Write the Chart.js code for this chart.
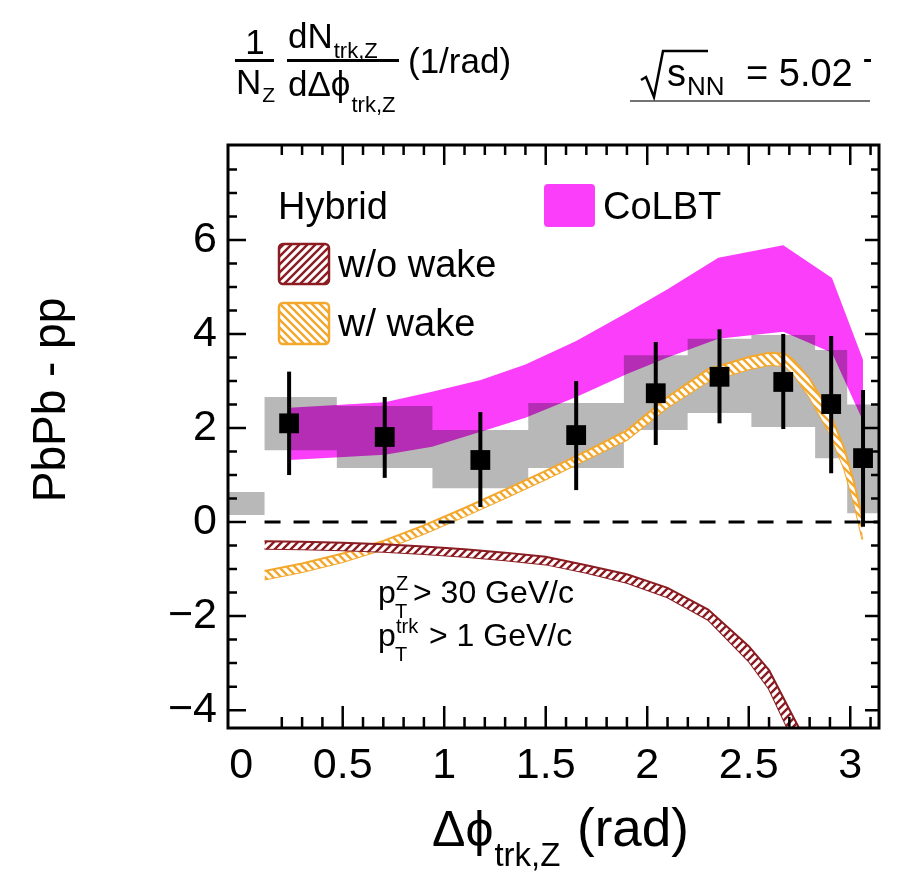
<!DOCTYPE html>
<html>
<head>
<meta charset="utf-8">
<script src="https://cdn.jsdelivr.net/npm/chart.js@4.4.1/dist/chart.umd.min.js"></script>
<style>
  html, body { margin: 0; padding: 0; background: #fff; }
  canvas { display: block; }
</style>
</head>
<body>
<canvas id="plot" width="899" height="872"></canvas>
<script>
// tick labels
var xTicks = [0, 0.5, 1, 1.5, 2, 2.5, 3];
var yTicks = [-4, -2, 0, 2, 4, 6];

// data points (PbPb - pp), stat error ends
var ptX = [0.236, 0.707, 1.178, 1.65, 2.042, 2.356, 2.67, 2.906, 3.063];
var ptY = [2.1, 1.81, 1.32, 1.85, 2.74, 3.09, 2.98, 2.51, 1.36];
var errHi = [3.2, 2.66, 2.34, 3.0, 3.83, 4.1, 4.0, 3.96, 2.81];
var errLo = [1.0, 0.94, 0.32, 0.68, 1.64, 2.1, 1.98, 1.04, -0.1];

// systematic boxes (bin edges, low/high)
var sysEdges = [-0.065, 0.115, 0.471, 0.942, 1.414, 1.885, 2.199, 2.513, 2.827, 2.985, 3.1416];
var sysHi = [0.64, 2.66, 2.47, 1.96, 2.53, 3.55, 3.9, 3.98, 3.66, 2.5];
var sysLo = [0.15, 1.53, 1.15, 0.72, 1.15, 1.96, 2.32, 2.02, 1.36, 0.19];

// CoLBT band
var colbtX = [0.236, 0.707, 0.94, 1.18, 1.4, 1.65, 1.9, 2.1, 2.35, 2.67, 2.91, 3.063];
var colbtHi = [2.43, 2.55, 2.77, 3.02, 3.35, 3.85, 4.45, 4.95, 5.62, 5.89, 5.19, 3.45];
var colbtLo = [1.32, 1.43, 1.6, 1.92, 2.22, 2.66, 3.15, 3.5, 3.9, 4.05, 3.6, 2.15];

// Hybrid w/ wake band
var wakeX = [0.115, 0.3, 0.5, 0.7, 0.9, 1.1, 1.3, 1.5, 1.7, 1.9, 2.1, 2.3, 2.5, 2.6, 2.68, 2.72, 2.8, 2.9, 2.97, 3.02, 3.06];
var wakeHi = [-1.04, -0.88, -0.67, -0.4, -0.07, 0.3, 0.69, 1.09, 1.51, 1.95, 2.66, 3.25, 3.51, 3.6, 3.58, 3.45, 3.05, 2.32, 1.57, 0.82, 0.07];
var wakeLo = [-1.22, -1.06, -0.85, -0.58, -0.25, 0.12, 0.51, 0.91, 1.33, 1.75, 2.44, 2.99, 3.25, 3.34, 3.32, 3.15, 2.65, 1.88, 1.13, 0.38, -0.37];

// Hybrid w/o wake band
var noWakeX = [0.115, 0.3, 0.5, 0.7, 0.9, 1.1, 1.3, 1.5, 1.7, 1.9, 2.1, 2.3, 2.5, 2.6, 2.72, 2.78];
var noWakeHi = [-0.41, -0.42, -0.44, -0.47, -0.52, -0.58, -0.65, -0.74, -0.92, -1.11, -1.4, -1.86, -2.64, -3.15, -4.15, -4.65];
var noWakeLo = [-0.57, -0.58, -0.6, -0.63, -0.68, -0.74, -0.81, -0.9, -1.08, -1.29, -1.6, -2.08, -2.96, -3.55, -4.65, -5.15];

var zeroX = [0.115, 3.1416];
var zeroY = [0, 0];

var FONT = "'Liberation Sans', Arial, Helvetica, sans-serif";
var MAGENTA = "rgb(250,62,250)";
var ORANGE = "rgb(243,168,45)";
var DARKRED = "rgb(138,28,34)";

function pts(xs, ys) {
    return xs.map((x, i) => ({ x: x, y: ys[i] }));
}
function stepPts(edges, vals) {
    var out = vals.map((v, i) => ({ x: edges[i], y: v }));
    out.push({ x: edges[edges.length - 1], y: vals[vals.length - 1] });
    return out;
}
function hatch(color, dir) {
    var c = document.createElement("canvas");
    c.width = 8;
    c.height = 8;
    var g = c.getContext("2d");
    g.fillStyle = "#fff";
    g.fillRect(0, 0, 8, 8);
    g.strokeStyle = color;
    g.lineWidth = 2.4;
    g.beginPath();
    if (dir > 0) {
        g.moveTo(-4, 4); g.lineTo(4, -4);
        g.moveTo(0, 8); g.lineTo(8, 0);
        g.moveTo(4, 12); g.lineTo(12, 4);
    } else {
        g.moveTo(-4, 4); g.lineTo(4, 12);
        g.moveTo(0, 0); g.lineTo(8, 8);
        g.moveTo(4, -4); g.lineTo(12, 4);
    }
    g.stroke();
    return g.createPattern(c, "repeat");
}
var redHatch = hatch(DARKRED, 1);
var orangeHatch = hatch(ORANGE, -1);

function roundBox(ctx, x, y, w, h, r) {
    ctx.beginPath();
    ctx.moveTo(x + r, y);
    ctx.arcTo(x + w, y, x + w, y + h, r);
    ctx.arcTo(x + w, y + h, x, y + h, r);
    ctx.arcTo(x, y + h, x, y, r);
    ctx.arcTo(x, y, x + w, y, r);
    ctx.closePath();
}

// text with a subscript right after it
function textSub(ctx, main, sub, x, y, size, subSize, drop) {
    ctx.font = size + "px " + FONT;
    ctx.fillText(main, x, y);
    var w = ctx.measureText(main).width;
    ctx.font = subSize + "px " + FONT;
    ctx.fillText(sub, x + w + 1, y + drop);
    return x + w + 1 + ctx.measureText(sub).width;
}

var rootStyle = {
    id: "rootStyle",
    afterDatasetDraw: function (chart, args) {
        // systematic boxes are blended (multiply) over the CoLBT band
        if (args.index === 7) chart.ctx.globalCompositeOperation = "multiply";
        if (args.index === 6) chart.ctx.globalCompositeOperation = "source-over";
    },
    afterDatasetsDraw: function (chart) {
        var ctx = chart.ctx;
        var xs = chart.scales.x, ys = chart.scales.y;
        ctx.save();
        ctx.globalCompositeOperation = "source-over";
        ctx.strokeStyle = "#000";
        ctx.lineWidth = 4;
        ptX.forEach((x, i) => {
            var px = xs.getPixelForValue(x);
            ctx.beginPath();
            ctx.moveTo(px, ys.getPixelForValue(errHi[i]));
            ctx.lineTo(px, ys.getPixelForValue(errLo[i]));
            ctx.stroke();
        });
        ctx.restore();
    },
    afterDraw: function (chart) {
        var ctx = chart.ctx;
        var a = chart.chartArea;
        var xs = chart.scales.x, ys = chart.scales.y;
        ctx.save();
        // frame
        ctx.strokeStyle = "#000";
        ctx.lineWidth = 3;
        ctx.strokeRect(a.left, a.top, a.right - a.left, a.bottom - a.top);
        // x ticks (inside)
        ctx.lineWidth = 2.5;
        ctx.beginPath();
        for (var k = 2; k <= 31; k++) {
            var v = k / 10;
            var px = xs.getPixelForValue(v);
            var major = k % 5 === 0;
            ctx.moveTo(px, a.bottom);
            ctx.lineTo(px, a.bottom - (major ? 22 : 11));
            ctx.moveTo(px, a.top);
            ctx.lineTo(px, a.top + (major ? 20 : 10));
        }
        // y ticks (inside)
        for (var j = -8; j <= 16; j++) {
            var vy = j / 2;
            var py = ys.getPixelForValue(vy);
            if (py < a.top + 2 || py > a.bottom - 2) continue;
            var majorY = j % 4 === 0;
            ctx.moveTo(a.left, py);
            ctx.lineTo(a.left + (majorY ? 18 : 9), py);
            ctx.moveTo(a.right, py);
            ctx.lineTo(a.right - (majorY ? 14 : 8), py);
        }
        ctx.stroke();

        ctx.fillStyle = "#000";
        ctx.textBaseline = "alphabetic";
        ctx.textAlign = "left";

        // legend
        ctx.font = "38px " + FONT;
        ctx.fillText("Hybrid", 278, 219);
        ctx.fillText("w/o wake", 338, 277);
        ctx.fillText("w/ wake", 338, 336);
        ctx.fillText("CoLBT", 603, 219);
        ctx.lineWidth = 2.5;
        roundBox(ctx, 279, 244, 50, 40, 4);
        ctx.fillStyle = redHatch;
        ctx.fill();
        ctx.strokeStyle = DARKRED;
        ctx.stroke();
        roundBox(ctx, 279, 303, 50, 41, 4);
        ctx.fillStyle = orangeHatch;
        ctx.fill();
        ctx.strokeStyle = ORANGE;
        ctx.stroke();
        roundBox(ctx, 544, 184, 51, 43, 4);
        ctx.fillStyle = MAGENTA;
        ctx.fill();

        // kinematic cuts
        ctx.fillStyle = "#000";
        ctx.font = "32px " + FONT;
        ctx.fillText("p", 378, 603);
        ctx.fillText("p", 378, 646);
        ctx.font = "20px " + FONT;
        ctx.fillText("Z", 396, 590);
        ctx.fillText("T", 395, 618);
        ctx.fillText("trk", 396, 633);
        ctx.fillText("T", 395, 661);
        ctx.font = "32px " + FONT;
        ctx.fillText("> 30 GeV/c", 413, 603);
        ctx.fillText("> 1 GeV/c", 429, 646);

        // x title
        textSub(ctx, "\u0394\u03d5", "trk,Z", 432, 846, 50, 33, 20);
        ctx.font = "53px " + FONT;
        ctx.fillText("(rad)", 577, 846);

        // y title
        ctx.save();
        ctx.translate(65, 400);
        ctx.rotate(-Math.PI / 2);
        ctx.textAlign = "center";
        ctx.font = "46px " + FONT;
        ctx.fillText("PbPb - pp", 0, 0);
        ctx.restore();

        // top-left quantity label
        ctx.font = "35px " + FONT;
        ctx.textAlign = "center";
        ctx.fillText("1", 255, 54);
        ctx.textAlign = "left";
        textSub(ctx, "N", "Z", 236, 94, 35, 21, 8);
        textSub(ctx, "dN", "trk,Z", 288, 48, 35, 22, 10);
        textSub(ctx, "d\u0394\u03d5", "trk,Z", 288, 96, 35, 22, 16);
        ctx.font = "35px " + FONT;
        ctx.fillText("(1/rad)", 408, 73);
        ctx.fillRect(235, 59, 39, 3);
        ctx.fillRect(287, 59, 112, 3);

        // sqrt(s_NN) label, cut off at the right
        ctx.save();
        ctx.beginPath();
        ctx.rect(600, 20, 271, 90);
        ctx.clip();
        ctx.lineWidth = 2.5;
        ctx.strokeStyle = "#000";
        ctx.beginPath();
        ctx.moveTo(641, 80);
        ctx.lineTo(646, 77);
        ctx.lineTo(654, 97);
        ctx.lineTo(663, 51);
        ctx.lineTo(708, 51);
        ctx.stroke();
        textSub(ctx, "s", "NN", 667, 86, 38, 26, 9);
        ctx.font = "38px " + FONT;
        ctx.fillText("= 5.02 TeV", 746, 86);
        ctx.restore();
        ctx.strokeStyle = "#444";
        ctx.lineWidth = 1.5;
        ctx.beginPath();
        ctx.moveTo(630, 101);
        ctx.lineTo(870, 101);
        ctx.stroke();
        ctx.restore();
    }
};

var ctx = document.getElementById("plot").getContext("2d");
var myChart = new Chart(ctx, {
    type: "line",
    data: {
        datasets: [
            {
                label: "data",
                data: pts(ptX, ptY),
                showLine: false,
                pointStyle: "rect",
                pointRadius: 14,
                pointBackgroundColor: "#000",
                pointBorderWidth: 0,
                order: 0,
            },
            {
                label: "zero",
                data: pts(zeroX, zeroY),
                borderColor: "#000",
                borderWidth: 3,
                borderDash: [16, 13],
                pointRadius: 0,
                fill: false,
                order: 1,
            },
            {
                label: "w/o wake",
                data: pts(noWakeX, noWakeHi),
                borderColor: DARKRED,
                borderWidth: 2,
                backgroundColor: redHatch,
                pointRadius: 0,
                fill: "+1",
                order: 2,
            },
            {
                label: "w/o wake lo",
                data: pts(noWakeX, noWakeLo),
                borderColor: DARKRED,
                borderWidth: 2,
                pointRadius: 0,
                fill: false,
                order: 3,
            },
            {
                label: "w/ wake",
                data: pts(wakeX, wakeHi),
                borderColor: ORANGE,
                borderWidth: 2,
                backgroundColor: orangeHatch,
                pointRadius: 0,
                fill: "+1",
                order: 4,
            },
            {
                label: "w/ wake lo",
                data: pts(wakeX, wakeLo),
                borderColor: ORANGE,
                borderWidth: 2,
                pointRadius: 0,
                fill: false,
                order: 5,
            },
            {
                label: "sys",
                data: stepPts(sysEdges, sysHi),
                stepped: true,
                borderWidth: 0,
                borderColor: "rgba(0,0,0,0)",
                backgroundColor: "rgb(184,184,184)",
                pointRadius: 0,
                fill: "+1",
                order: 6,
            },
            {
                label: "sys lo",
                data: stepPts(sysEdges, sysLo),
                stepped: true,
                borderWidth: 0,
                borderColor: "rgba(0,0,0,0)",
                pointRadius: 0,
                fill: false,
                order: 7,
            },
            {
                label: "CoLBT",
                data: pts(colbtX, colbtHi),
                borderWidth: 0,
                borderColor: "rgba(0,0,0,0)",
                backgroundColor: MAGENTA,
                pointRadius: 0,
                fill: "+1",
                order: 8,
            },
            {
                label: "CoLBT lo",
                data: pts(colbtX, colbtLo),
                borderWidth: 0,
                borderColor: "rgba(0,0,0,0)",
                pointRadius: 0,
                fill: false,
                order: 9,
            },
        ],
    },
    options: {
        responsive: false,
        animation: false,
        devicePixelRatio: 1,
        layout: { padding: { top: 145, right: 20, left: 0, bottom: 0 } },
        plugins: {
            legend: { display: false },
            tooltip: { enabled: false },
        },
        scales: {
            x: {
                type: "linear",
                min: -0.065,
                max: 3.1416,
                grid: { display: false, drawTicks: false },
                border: { display: false },
                afterFit: (s) => { s.height = 144; },
                afterBuildTicks: (s) => { s.ticks = xTicks.map((v) => ({ value: v })); },
                ticks: {
                    color: "#000",
                    padding: 12,
                    maxRotation: 0,
                    autoSkip: false,
                    font: { family: FONT, size: 43 },
                    callback: (v) => String(v),
                },
            },
            y: {
                type: "linear",
                min: -4.38,
                max: 8.02,
                grid: { display: false, drawTicks: false },
                border: { display: false },
                afterFit: (s) => { s.width = 228; },
                afterBuildTicks: (s) => { s.ticks = yTicks.map((v) => ({ value: v })); },
                ticks: {
                    color: "#000",
                    padding: 11,
                    autoSkip: false,
                    font: { family: FONT, size: 43 },
                    callback: (v) => (v < 0 ? "\u2212" + Math.abs(v) : String(v)),
                },
            },
        },
    },
    plugins: [rootStyle],
});
</script>
</body>
</html>
